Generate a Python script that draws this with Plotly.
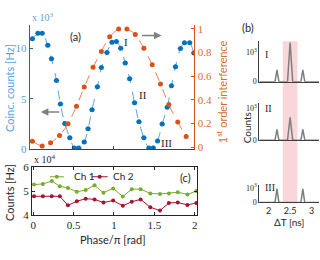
import plotly.graph_objects as go

W, H = 320, 260
def fx(p): return p / W
def fy(p): return 1 - p / H

BLUE = "#0072BD"
BLUE_L = "#5AA2DC"
ORANGE = "#D95319"
ORANGE_L = "#E5804F"
GREEN = "#77AC30"
RED = "#A2142F"
GRAY = "#7F7F7F"
DARK = "#262626"
SERIF = "Liberation Serif"
SANS = "Lato"

# ---- Panel (a) data ----
phase_blue = [0.000, 0.068, 0.121, 0.190, 0.236, 0.298, 0.347, 0.401, 0.463, 0.520,
              0.574, 0.642, 0.689, 0.738, 0.805, 0.854, 0.923, 0.985, 1.040, 1.093,
              1.150, 1.204, 1.265, 1.319, 1.380, 1.443, 1.496, 1.550, 1.607, 1.670,
              1.722, 1.772, 1.833, 1.883, 1.948, 2.000]
coinc_blue = [10950, 11490, 11490, 10310, 8960, 6810, 4470, 2540, 1120, 110,
              110, 710, 2010, 3910, 6180, 8080, 9590, 10600, 10660, 10000,
              8530, 6970, 4600, 2700, 1120, 110, 110, 800, 2480, 4150,
              6270, 8170, 9970, 10540, 10540, 9530]

phase_orange = [0.000, 0.121, 0.225, 0.336, 0.442, 0.546, 0.642, 0.751, 0.854, 0.957,
                1.068, 1.170, 1.274, 1.380, 1.484, 1.586, 1.689, 1.800, 1.904]
interf_orange = [0.051, 0.010, 0.038, 0.099, 0.199, 0.347, 0.508, 0.675, 0.809, 0.933,
                 0.998, 0.998, 0.952, 0.836, 0.696, 0.535, 0.360, 0.212, 0.091]

# ---- Panel (c) data ----
phase_c = [0.01, 0.12, 0.23, 0.33, 0.43, 0.54, 0.65, 0.76, 0.87, 0.99,
           1.11, 1.22, 1.33, 1.45, 1.57, 1.68, 1.79, 1.91, 2.02]
ch1 = [52700, 53000, 54200, 52000, 51300, 49700, 50400, 52400, 49300, 51100,
       47700, 50800, 50800, 49000, 48800, 49000, 49500, 48600, 50000]
ch2 = [47800, 47800, 47800, 47800, 44000, 45700, 46800, 46500, 45200, 46000,
       43800, 45500, 46500, 43200, 41800, 45000, 45200, 44200, 45000]

# ---- Panel (b) data ----
dt_ns = [1.79, 2.15, 2.195, 2.24, 2.44, 2.50, 2.56, 2.75, 2.795, 2.84, 3.17]
counts_I = [0, 0, 400, 0, 0, 1320, 0, 0, 400, 0, 0]
counts_II = [0, 0, 343, 0, 0, 720, 0, 0, 343, 0, 0]
counts_III = [0, 0, 920, 0, 0, 0, 0, 0, 920, 0, 0]
peak_labels = ["I", "II", "III"]

fig = go.Figure()
fig.add_trace(go.Scatter(
    x=phase_blue, y=coinc_blue, mode="lines+markers",
    line=dict(color=BLUE_L, width=1, dash="dash", shape="spline", smoothing=0.8),
    marker=dict(color=BLUE, size=5),
    error_x=dict(type="constant", value=0.035, color=BLUE_L, thickness=1, width=0),
    error_y=dict(type="constant", value=200, color=BLUE_L, thickness=1, width=0),
    xaxis="x", yaxis="y", showlegend=False))
fig.add_trace(go.Scatter(
    x=phase_orange, y=interf_orange, mode="lines+markers",
    line=dict(color=ORANGE_L, width=1, dash="dash", shape="spline", smoothing=0.8),
    marker=dict(color=ORANGE, size=5),
    xaxis="x", yaxis="y2", showlegend=False))
fig.add_trace(go.Scatter(
    x=phase_c, y=ch1, mode="lines+markers", name="Ch 1",
    line=dict(color=GREEN, width=1), marker=dict(color=GREEN, size=4),
    xaxis="x2", yaxis="y3", showlegend=False))
fig.add_trace(go.Scatter(
    x=phase_c, y=ch2, mode="lines+markers", name="Ch 2",
    line=dict(color=RED, width=1), marker=dict(color=RED, size=4),
    xaxis="x2", yaxis="y3", showlegend=False))
for i, cts in enumerate([counts_I, counts_II, counts_III]):
    fig.add_trace(go.Scatter(
        x=dt_ns, y=cts, mode="lines", line=dict(color=GRAY, width=1.5),
        xaxis="x%d" % (4 + i), yaxis="y%d" % (4 + i), showlegend=False))

tickfont_a_l = dict(family=SERIF, size=11, color=BLUE_L)
tickfont_a_r = dict(family=SERIF, size=11, color="#E06A30")
tickfont_c = dict(family=SERIF, size=11, color=DARK)

common = dict(showgrid=False, zeroline=False)
layout = dict(
    width=W, height=H, autosize=False,
    margin=dict(l=0, r=0, t=0, b=0),
    paper_bgcolor="white", plot_bgcolor="rgba(0,0,0,0)",
    showlegend=False,
    xaxis=dict(domain=[fx(29), fx(194)], range=[-0.031, 2.006], anchor="y",
               showline=True, linecolor="#404040", linewidth=1,
               ticks="inside", ticklen=3, tickcolor="#404040",
               tickvals=[0.5, 1, 1.5], showticklabels=False, **common),
    xaxis3=dict(overlaying="x", side="top", anchor="y", range=[-0.031, 2.006],
                showline=True, linecolor="#8C8C8C", linewidth=1.5,
                ticks="inside", ticklen=3, tickcolor="#8C8C8C",
                tickvals=[0.5, 1, 1.5], showticklabels=False, **common),
    yaxis=dict(domain=[fy(150), fy(20)], range=[0, 12300], anchor="x",
               showline=True, linecolor=BLUE, linewidth=1.2,
               ticks="inside", ticklen=3, tickcolor=BLUE,
               tickvals=[0, 5000, 10000], ticktext=["0", "5", "10"],
               tickfont=tickfont_a_l, **common),
    yaxis2=dict(overlaying="y", side="right", anchor="x", range=[-0.016, 1.032],
                showline=True, linecolor=ORANGE, linewidth=1.2,
                ticks="inside", ticklen=3, tickcolor=ORANGE,
                tickvals=[0, 0.2, 0.4, 0.6, 0.8, 1],
                ticktext=["0", "0.2", "0.4", "0.6", "0.8", "1"],
                tickfont=tickfont_a_r, **common),
    xaxis2=dict(domain=[fx(31), fx(197)], range=[-0.016, 2.033], anchor="y3",
                showline=True, mirror="ticks", linecolor=DARK, linewidth=1,
                ticks="inside", ticklen=3, tickcolor=DARK,
                tickvals=[0, 0.5, 1, 1.5, 2], ticktext=["0", "0.5", "1", "1.5", "2"],
                tickfont=tickfont_c, **common),
    yaxis3=dict(domain=[fy(219), fy(169)], range=[40000, 60000], anchor="x2",
                showline=True, mirror="ticks", linecolor=DARK, linewidth=1,
                ticks="inside", ticklen=3, tickcolor=DARK,
                tickvals=[40000, 50000, 60000], ticktext=["4", "5", "6"],
                tickfont=tickfont_c, **common),
)

b_ydom = [(79.3, 37), (140.7, 101.7), (206, 188)]
b_ymax = [1365, 1175, 1161]
for i in range(3):
    xa = "xaxis%d" % (4 + i)
    ya = "yaxis%d" % (4 + i)
    layout[xa] = dict(domain=[fx(259.3), fx(319)], range=[1.79, 3.17],
                      anchor="y%d" % (4 + i), showline=True, linecolor="#404040",
                      linewidth=1.2, ticks="",
                      showticklabels=(i == 2), tickvals=[2, 2.5, 3],
                      ticktext=["2", "2.5", "3"],
                      tickfont=dict(family=SANS, size=9, color=DARK), **common)
    layout[ya] = dict(domain=[fy(b_ydom[i][0]), fy(b_ydom[i][1])],
                      range=[0, b_ymax[i]], anchor="x%d" % (4 + i),
                      showline=True, linecolor="#404040", linewidth=1.2, ticks="",
                      tickvals=[0, 1000], ticktext=["0", "10<sup>3</sup>"],
                      tickfont=dict(family=SERIF, size=8, color=DARK), **common)

fig.update_layout(**layout)

shapes = [
    dict(type="rect", xref="paper", yref="paper", x0=fx(282.7), x1=fx(297.3),
         y0=fy(207), y1=fy(37), fillcolor="#F9D6DA", line=dict(width=0), layer="below"),
    dict(type="line", xref="paper", yref="paper", x0=fx(49), x1=fx(63),
         y0=fy(179), y1=fy(179), line=dict(color=GREEN, width=1)),
    dict(type="circle", xref="paper", yref="paper", x0=fx(54), x1=fx(58),
         y0=fy(181), y1=fy(177), fillcolor=GREEN, line=dict(color=GREEN, width=0)),
    dict(type="line", xref="paper", yref="paper", x0=fx(91), x1=fx(107),
         y0=fy(179), y1=fy(179), line=dict(color=RED, width=1)),
    dict(type="circle", xref="paper", yref="paper", x0=fx(97), x1=fx(101),
         y0=fy(181), y1=fy(177), fillcolor=RED, line=dict(color=RED, width=0)),
]
fig.update_layout(shapes=shapes)

def ann(text, x, y, size=11, color=DARK, family=SANS, xanchor="center", angle=0):
    return dict(text=text, x=fx(x), y=fy(y), xref="paper", yref="paper",
                showarrow=False, xanchor=xanchor, yanchor="middle", textangle=angle,
                font=dict(family=family, size=size, color=color))

anns = [
    ann("x 10<sup>3</sup>", 29, 12, size=10, color=BLUE_L, family=SERIF, xanchor="left"),
    ann("(a)", 75, 32, size=11),
    ann(peak_labels[0], 125.5, 38, family=SERIF),
    ann(peak_labels[1], 142, 93, family=SERIF),
    ann(peak_labels[2], 166, 144, family=SERIF),
    ann("Coinc. counts [Hz]", 8, 86, size=11, color=BLUE_L, angle=-90),
    ann("1<sup>st</sup> order interference", 222, 90, size=11, color="#E06A30", angle=-90),
    ann("x 10<sup>4</sup>", 31, 160, size=10, family=SERIF, xanchor="left"),
    ann("(c)", 185, 180, size=11),
    ann("Ch 1", 71, 178, size=10, xanchor="left"),
    ann("Ch 2", 110, 178, size=10, xanchor="left"),
    ann("Counts [Hz]", 8, 195, size=11, angle=-90),
    ann("Phase/π [rad]", 112, 245, size=11),
    ann("(b)", 248, 23, size=11),
    ann(peak_labels[0], 263, 51, size=10, family=SERIF, xanchor="left"),
    ann(peak_labels[1], 263, 107, size=10, family=SERIF, xanchor="left"),
    ann(peak_labels[2], 263, 190, size=10, family=SERIF, xanchor="left"),
    ann("Counts", 247, 128, size=10, angle=-90),
    ann("ΔT [ns]", 289, 226, size=10),
    dict(x=fx(40), y=fy(111), xref="paper", yref="paper", ax=20, ay=0, text="",
         showarrow=True, arrowhead=2, arrowsize=1, arrowwidth=1.5, arrowcolor="#808080"),
    dict(x=fx(161), y=fy(31), xref="paper", yref="paper", ax=-21, ay=0, text="",
         showarrow=True, arrowhead=2, arrowsize=1, arrowwidth=1.5, arrowcolor="#808080"),
]
fig.update_layout(annotations=anns)

fig.write_html("out.html", config={"displayModeBar": False},
               post_script="document.body.style.margin='0';document.body.style.overflow='hidden';")
